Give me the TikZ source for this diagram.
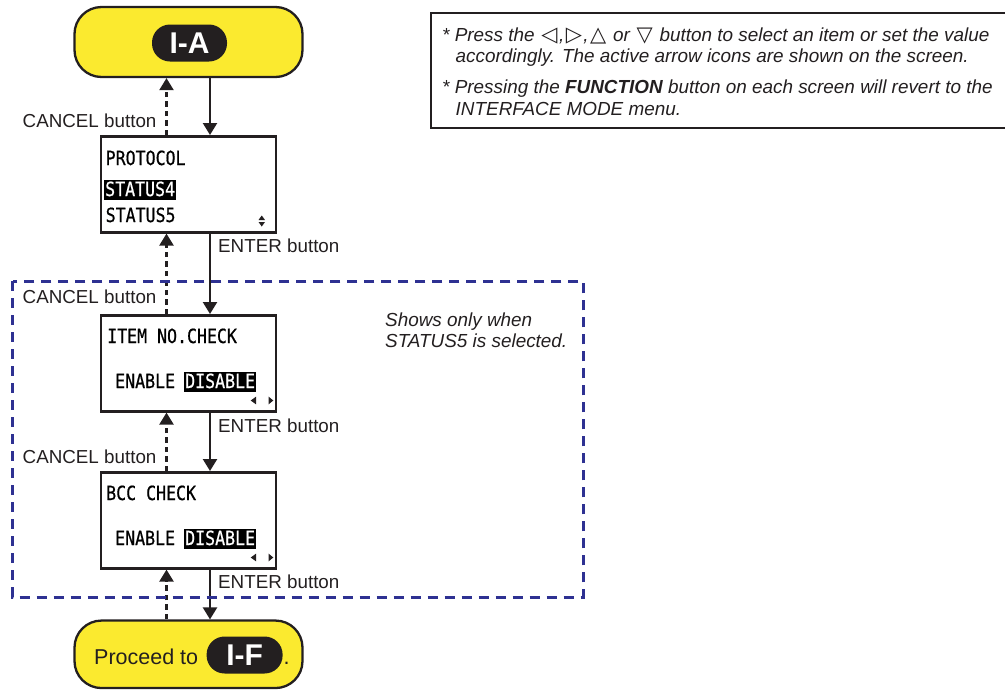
\documentclass[tikz,border=0pt]{standalone}
\usepackage{fontspec}
\setmainfont{Liberation Sans}
\newfontfamily\lcd[FakeStretch=0.85,FakeBold=0.6]{DejaVu Sans Mono}
\newfontfamily\sym{DejaVu Sans}
\usetikzlibrary{arrows.meta}
\definecolor{ylw}{HTML}{FBEA2F}
\definecolor{ink}{HTML}{231F20}
\definecolor{dblue}{HTML}{2E3192}
\newcommand{\tsym}[1]{\kern1.5pt\relax{\sym\upshape\fontsize{21}{20}\selectfont #1}\kern1.5pt\relax}
\begin{document}
\begin{tikzpicture}[x=1pt,y=-1pt,
  screen/.style={draw=ink, line width=2.6pt, fill=white, minimum width=175pt, minimum height=96pt, inner sep=0},
  term/.style={draw=ink, line width=2.3pt, fill=ylw, rounded corners=27pt, minimum width=228pt, minimum height=68pt, inner sep=0},
  pill/.style={fill=ink, text=white, rounded corners=18pt, font=\fontsize{30}{30}\selectfont\bfseries, minimum height=37pt, inner sep=0},
  lbl/.style={font=\fontsize{18.8}{20}\selectfont, text=ink, inner sep=0, anchor=base west},
  note/.style={font=\fontsize{18.9}{20}\selectfont\itshape, text=ink, inner sep=0, anchor=base west},
  lcdt/.style={font=\lcd\fontsize{19.5}{20}\selectfont, text=black, inner sep=0, anchor=base west},
  hl/.style={lcdt, fill=black, text=white, inner xsep=1pt, inner ysep=0pt, text height=16pt, text depth=4pt},
  tri/.style={fill=ink, draw=none},
  fwd/.style={draw=ink, line width=2.3pt, -{Triangle[length=12pt,width=14pt]}},
  back/.style={fwd, dash pattern=on 5.5pt off 4pt}]
\useasboundingbox (0,0) rectangle (1005,689);

% terminals
\node[term, minimum height=70pt] (ia) at (188.5,42) {};
\node[pill, minimum width=75pt] (iap) at (189.5,43) {I-A};

\node[term, minimum height=67.5pt] (fin) at (188.5,654.3) {};
\node[lbl, font=\fontsize{21.5}{22}\selectfont] (proc) at (94,664) {Proceed to};
\node[pill, minimum width=76pt] (ifp) at (244.6,655) {I-F};
\node[lbl, font=\fontsize{21.5}{22}\selectfont] (dot) at (283.5,664) {.};

% screens
\node[screen] (p) at (188.5,184.3) {};
\node[lcdt] (p1) at (105.5,165) {PROTOCOL};
\node[hl] (p2) at (104,196) {STATUS4};
\node[lcdt] (p3) at (105.5,222) {STATUS5};
\fill[tri] (258.5,220) -- (265,220) -- (261.75,215.5) -- cycle;
\fill[tri] (258.5,222) -- (265,222) -- (261.75,226.5) -- cycle;

\node[screen] (it) at (188.5,363.3) {};
\node[lcdt] (it1) at (107,343) {ITEM NO.CHECK};
\node[lcdt] (it2) at (115,388) {ENABLE};
\node[hl] (it3) at (184,388) {DISABLE};
\fill[tri] (250.7,400.5) -- (256,396.7) -- (256,404.3) -- cycle;
\fill[tri] (273.3,400.5) -- (268.7,396.7) -- (268.7,404.3) -- cycle;

\node[screen] (bc) at (188.5,520.3) {};
\node[lcdt] (bc1) at (106,500) {BCC CHECK};
\node[lcdt] (bc2) at (115,545) {ENABLE};
\node[hl] (bc3) at (184,545) {DISABLE};
\fill[tri] (250.7,557.5) -- (256,553.7) -- (256,561.3) -- cycle;
\fill[tri] (273.3,557.5) -- (268.7,553.7) -- (268.7,561.3) -- cycle;

% connectors
\draw[fwd] ([xshift=21.5pt]ia.south) -- ([xshift=21.5pt]p.north);
\draw[back] ([xshift=-22pt]p.north) -- ([xshift=-22pt]ia.south);
\draw[fwd] ([xshift=21.5pt]p.south) -- ([xshift=21.5pt]it.north);
\draw[back] ([xshift=-22pt]it.north) -- ([xshift=-22pt]p.south);
\draw[fwd] ([xshift=21.5pt]it.south) -- ([xshift=21.5pt]bc.north);
\draw[back] ([xshift=-22pt]bc.north) -- ([xshift=-22pt]it.south);
\draw[fwd] ([xshift=21.5pt]bc.south) -- ([xshift=21.5pt]fin.north);
\draw[back] ([xshift=-22pt]fin.north) -- ([xshift=-22pt]bc.south);

% labels
\node[lbl] (c1) at (22.5,127.5) {CANCEL button};
\node[lbl] (e1) at (218,252.5) {ENTER button};
\node[lbl] (c2) at (22.5,303) {CANCEL button};
\node[lbl] (e2) at (218,432) {ENTER button};
\node[lbl] (c3) at (22.5,463) {CANCEL button};
\node[lbl] (e3) at (218,588) {ENTER button};

% dashed region
\draw[dblue, line width=3pt, dash pattern=on 10pt off 7pt] (12.7,281) rectangle (583,597);
\node[note] (s1) at (385,326) {Shows only when};
\node[note] (s2) at (385,347) {STATUS5 is selected.};

% note box
\draw[ink, line width=2pt] (431,12.7) rectangle (1012,128);
\node[note] (n1) at (442,41) {* Press the \tsym{◁},\tsym{▷},\tsym{△} or \tsym{▽} button to select an item or set the value};
\node[note] (n2) at (455.5,62.5) {accordingly. The active arrow icons are shown on the screen.};
\node[note] (n3) at (442,93.5) {* Pressing the \textbf{FUNCTION} button on each screen will revert to the};
\node[note] (n4) at (455.5,115.5) {INTERFACE MODE menu.};
\end{tikzpicture}
\end{document}
